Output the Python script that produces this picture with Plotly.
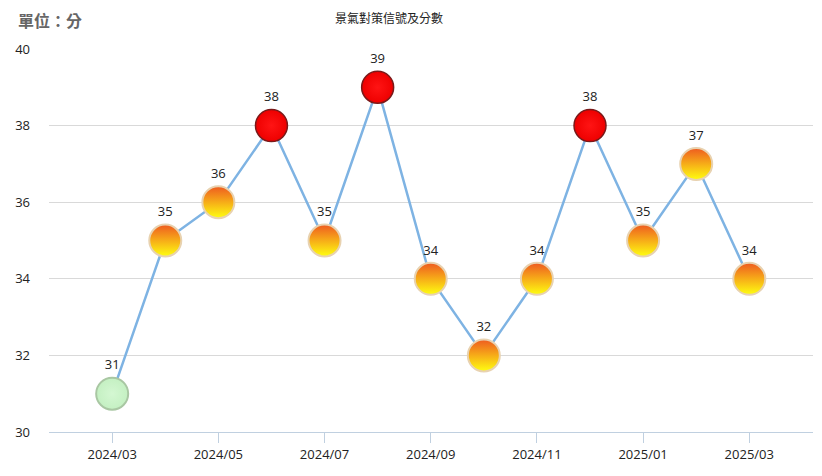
import plotly.graph_objects as go

months = ["2024/03", "2024/04", "2024/05", "2024/06", "2024/07", "2024/08", "2024/09",
          "2024/10", "2024/11", "2024/12", "2025/01", "2025/02", "2025/03"]
scores = [31, 35, 36, 38, 35, 39, 34, 32, 34, 38, 35, 37, 34]
signals = ["green", "yr", "yr", "red", "yr", "red", "yr", "yr", "yr", "red", "yr", "yr", "yr"]
tick_labels = ["2024/03", "2024/05", "2024/07", "2024/09", "2024/11", "2025/01", "2025/03"]

style = {
    "green": dict(color="#c4f0c2", gcolor="#d4f7d2", gtype="radial", line="#a9c7a3", lw=2),
    "yr": dict(color="#ee5a20", gcolor="#ffff10", gtype="vertical", line="#e8d2b0", lw=2),
    "red": dict(color="#ee0000", gcolor="#ff1414", gtype="radial", line="#7a1a1a", lw=1.5),
}

fig = go.Figure()
fig.add_trace(go.Scatter(
    x=months, y=scores, mode="lines",
    line=dict(color="#7eb3e3", width=2.5),
    hoverinfo="skip", showlegend=False,
))
for key in ["green", "yr", "red"]:
    xs = [m for m, s in zip(months, signals) if s == key]
    ys = [v for v, s in zip(scores, signals) if s == key]
    st = style[key]
    fig.add_trace(go.Scatter(
        x=xs, y=ys, mode="markers+text",
        text=[str(v) for v in ys], textposition="top center",
        textfont=dict(family="Open Sans, Arial, sans-serif", size=13, color="#222"),
        marker=dict(size=32, color=st["color"],
                    gradient=dict(type=st["gtype"], color=st["gcolor"]),
                    line=dict(color=st["line"], width=st["lw"])),
        showlegend=False,
    ))

fig.update_layout(
    width=814, height=468,
    paper_bgcolor="white", plot_bgcolor="white",
    margin=dict(l=41, r=9, t=41, b=44),
    font=dict(family="Open Sans, Arial, sans-serif", size=13, color="#222"),
    xaxis=dict(
        type="category", range=[-1.19, 13.2], automargin=False,
        tickmode="array", tickvals=tick_labels, ticktext=tick_labels,
        showgrid=False, showline=True, linecolor="#c0d0e0", linewidth=1,
        ticks="outside", ticklen=10, tickcolor="#c0d0e0",
        tickfont=dict(size=13, color="#222"),
    ),
    yaxis=dict(
        range=[30, 40], dtick=2, showgrid=True, gridcolor="#d9d9d9", gridwidth=1,
        zeroline=False, showline=False, ticks="", ticklabelstandoff=18, automargin=False,
        tickfont=dict(size=13, color="#222"),
    ),
    annotations=[
        dict(text="單位：分", xref="paper", yref="paper", x=-33/764, y=1 + 29/383,
             xanchor="left", yanchor="middle", showarrow=False,
             font=dict(family="Noto Sans CJK TC", size=16, color="#666", weight="bold")),
        dict(text="景氣對策信號及分數", xref="paper", yref="paper", x=(389-49)/764, y=1 + 31/383,
             xanchor="center", yanchor="middle", showarrow=False,
             font=dict(family="Noto Sans CJK TC", size=12, color="#222")),
    ],
)
fig.write_html("out.html")
